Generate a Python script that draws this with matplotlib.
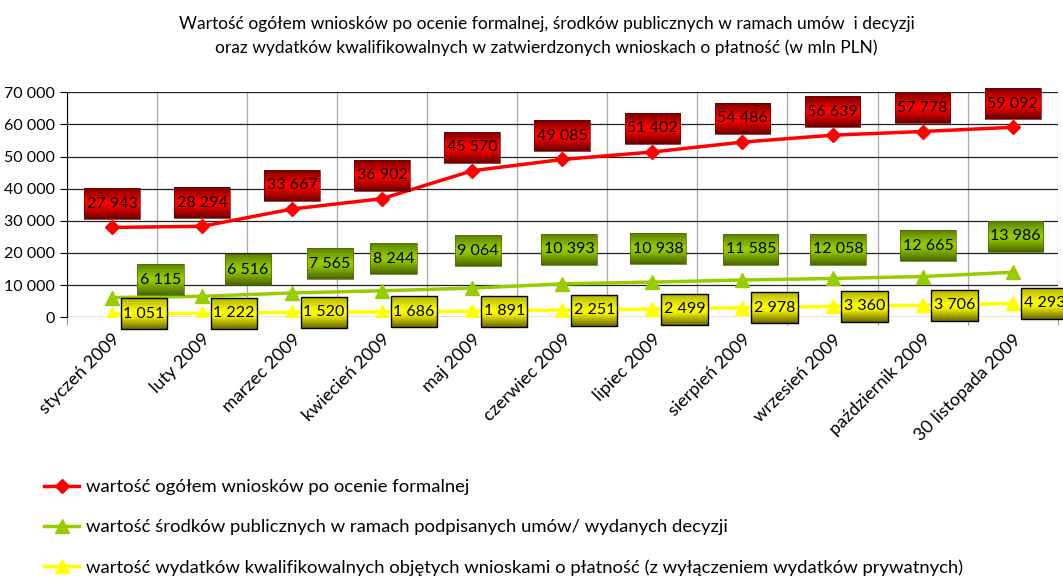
import matplotlib
matplotlib.use("Agg")
import matplotlib.pyplot as plt
import matplotlib.transforms as mtransforms
from matplotlib.colors import LinearSegmentedColormap
from matplotlib.image import BboxImage
from matplotlib.patches import Rectangle
import numpy as np

plt.rcParams["font.family"] = ["Lato", "DejaVu Sans"]

months = ["styczeń 2009", "luty 2009", "marzec 2009", "kwiecień 2009", "maj 2009",
          "czerwiec 2009", "lipiec 2009", "sierpień 2009", "wrzesień 2009",
          "październik 2009", "30 listopada 2009"]
total_formal = [27943, 28294, 33667, 36902, 45570, 49085, 51402, 54486, 56639, 57778, 59092]
public_funds = [6115, 6516, 7565, 8244, 9064, 10393, 10938, 11585, 12058, 12665, 13986]
eligible_spend = [1051, 1222, 1520, 1686, 1891, 2251, 2499, 2978, 3360, 3706, 4293]

series_names = [
    "wartość ogółem wniosków po ocenie formalnej",
    "wartość środków publicznych w ramach podpisanych umów/ wydanych decyzji",
    "wartość wydatków kwalifikowalnych objętych wnioskami o płatność (z wyłączeniem wydatków prywatnych)",
]
title = ("Wartość ogółem wniosków po ocenie formalnej, środków publicznych w ramach umów  i decyzji\n"
         "oraz wydatków kwalifikowalnych w zatwierdzonych wnioskach o płatność (w mln PLN)")

# label offsets in points (manual placement as in the source chart)
green_dx = [35, 33, 27, 8, 4, 5, 4, 6, 4, 4, 2]
green_dy = [13, 19, 21, 23, 27, 25, 24, 22, 21, 22, 26]

# vertical gradients for the label boxes (top -> bottom)
grad_red = LinearSegmentedColormap.from_list(
    "r", [(0, "#7a0000"), (0.45, "#ff0000"), (0.6, "#f00000"), (1, "#6a0000")])
grad_green = LinearSegmentedColormap.from_list(
    "g", [(0, "#5a8200"), (0.45, "#99cc00"), (0.6, "#8fc000"), (1, "#486800")])
grad_yellow = LinearSegmentedColormap.from_list(
    "y", [(0, "#b4b400"), (0.45, "#ffff00"), (0.6, "#f2f200"), (1, "#6c6c00")])


def fmt(v):
    return f"{v:,}".replace(",", " ")


fig = plt.figure(figsize=(10.63, 5.8), dpi=100)
ax = fig.add_axes([0.063, 0.453, 0.932, 0.388])
x = np.arange(len(months))

ax.plot(x, total_formal, color="#ff0000", lw=2.5, marker="D", ms=7, zorder=3,
        label=series_names[0])
ax.plot(x, public_funds, color="#99cc00", lw=2.5, marker="^", ms=10, zorder=3,
        label=series_names[1])
ax.plot(x, eligible_spend, color="#ffff00", lw=2.5, marker="^", ms=10, zorder=3,
        label=series_names[2])

labels = []
kw = dict(textcoords="offset points", ha="center", va="center", fontsize=11.5, zorder=6)
for xi, v in zip(x, total_formal):
    labels.append((ax.annotate(fmt(v), (xi, v), xytext=(0, 17), **kw), grad_red, "#6a0000", 0.5))
for xi, v, dx, dy in zip(x, public_funds, green_dx, green_dy):
    labels.append((ax.annotate(fmt(v), (xi, v), xytext=(dx, dy), **kw), grad_green, "#486800", 0.5))
for xi, v in zip(x, eligible_spend):
    labels.append((ax.annotate(fmt(v), (xi, v), xytext=(23, 0), **kw), grad_yellow, "black", 1.0))

ax.set_xlim(-0.5, len(months) - 0.5)
ax.set_ylim(0, 70000)
ax.set_yticks(np.arange(0, 70001, 10000))
ax.set_yticklabels([fmt(v) for v in range(0, 70001, 10000)], fontsize=11.5)
ax.set_xticks(np.arange(-0.5, len(months), 1.0), minor=False)
ax.set_xticklabels([])
ax.set_xticks(x, minor=True)
ax.set_xticklabels(months, minor=True, rotation=45, ha="right", va="top",
                   rotation_mode="anchor", fontsize=13)
shift = mtransforms.ScaledTranslation(-19 / 100, -4 / 100, fig.dpi_scale_trans)
for t in ax.get_xticklabels(minor=True):
    t.set_transform(t.get_transform() + shift)
ax.tick_params(axis="x", which="minor", length=0, pad=10)
ax.tick_params(axis="x", which="major", length=6, color="#999999")
ax.tick_params(axis="y", length=5, color="black")

ax.grid(axis="y", color="#222222", lw=0.9)
ax.grid(axis="x", which="major", color="#aaaaaa", lw=0.9)
ax.set_axisbelow(True)
for side in ("top", "right"):
    ax.spines[side].set_visible(False)
ax.spines["bottom"].set_visible(False)
ax.spines["left"].set_color("black")

fig.text(0.514, 0.973, title, ha="center", va="top", fontsize=12.5, linespacing=1.55)

fig.legend(loc="upper left", bbox_to_anchor=(0.033, 0.19), frameon=False,
           fontsize=13.3, handlelength=1.9, labelspacing=1.3, handletextpad=0.35,
           borderpad=0)

# gradient-filled boxes under the label text (Excel-style data labels)
fig.canvas.draw()
renderer = fig.canvas.get_renderer()
grad = np.linspace(0, 1, 64).reshape(-1, 1)
ident = mtransforms.IdentityTransform()
for a, cmap, edge, lw in labels:
    ext = a.get_window_extent(renderer)
    cx, cy = (ext.x0 + ext.x1) / 2, (ext.y0 + ext.y1) / 2
    w, h = ext.width + 5, 31
    bb = mtransforms.Bbox.from_bounds(cx - w / 2, cy - h / 2, w, h)
    img = BboxImage(bb, cmap=cmap, interpolation="bilinear", origin="upper", zorder=5)
    img.set_data(grad)
    img.set_clim(0, 1)
    img.set_clip_on(False)
    ax.add_artist(img)
    ax.add_artist(Rectangle((bb.x0, bb.y0), w, h, transform=ident, fill=False,
                            edgecolor=edge, lw=lw, zorder=5.5, clip_on=False))

fig.savefig("out.png", dpi=100)
